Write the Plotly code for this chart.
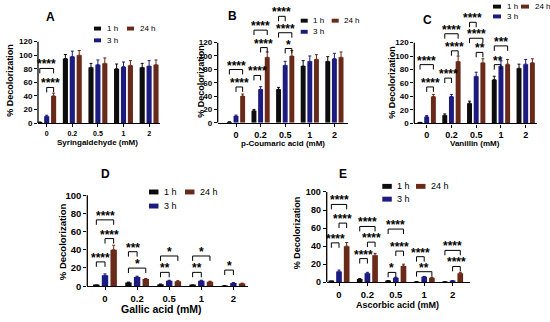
import plotly.graph_objects as go

# ---------------- data ----------------
cats = ["0", "0.2", "0.5", "1", "2"]
series = ["1 h", "3 h", "24 h"]

A_1h = [1, 95, 82, 80, 82]
A_3h = [10, 98, 86, 83, 84]
A_24h = [40, 100, 88, 85, 86]
A_err = [[0.5, 6, 6, 7, 6], [1.5, 8, 7, 7, 8], [4, 7, 8, 7, 7]]

B_1h = [1, 18, 50, 85, 92]
B_3h = [10, 50, 86, 92, 96]
B_24h = [40, 98, 100, 95, 98]
B_err = [[0.5, 2, 3, 8, 7], [1.5, 4, 6, 8, 8], [3, 8, 8, 7, 8]]

C_1h = [1, 12, 30, 65, 82]
C_3h = [10, 40, 70, 85, 88]
C_24h = [40, 92, 90, 88, 90]
C_err = [[0.5, 2, 3, 5, 6], [1.5, 3, 6, 8, 7], [3, 8, 6, 7, 6]]

D_1h = [1, 4, 2, 1, 0.4]
D_3h = [12, 10, 6, 6, 3.5]
D_24h = [40, 8, 5.5, 5, 3]
D_err = [[0.3, 0.5, 0.3, 0.3, 0.2], [1.5, 1, 0.5, 0.5, 0.4], [5, 0.5, 0.5, 0.5, 0.3]]

E_1h = [1, 3.5, 1.5, 0.5, 0.3]
E_3h = [12, 10, 5, 6, 1.5]
E_24h = [40, 30, 18, 5, 10]
E_err = [[0.3, 0.5, 0.3, 0.2, 0.2], [1.5, 1, 0.5, 0.5, 0.3], [4, 2, 2, 0.5, 1]]

# significance brackets: (category index, series a, series b, level, label)
A_sig = [(0, 0, 2, 80.5, "****"), (0, 1, 2, 52.5, "****")]
B_sig = [(0, 0, 2, 79.7, "****"), (0, 1, 2, 53.6, "****"),
         (1, 0, 2, 138.7, "****"), (1, 1, 2, 112.6, "****"), (1, 0, 1, 70.8, "****"),
         (2, 0, 1, 159.4, "****"), (2, 0, 2, 134.8, "****"), (2, 1, 2, 111.2, "*")]
C_sig = [(0, 0, 2, 87.3, "****"), (0, 1, 2, 54.1, "****"),
         (1, 0, 2, 133.2, "****"), (1, 1, 2, 107.8, "****"), (1, 0, 1, 67.3, "****"),
         (2, 0, 1, 150.2, "****"), (2, 0, 2, 126.5, "****"), (2, 1, 2, 105.5, "**"),
         (3, 0, 2, 115.1, "***"), (3, 0, 1, 87.3, "**")]
D_sig = [(0, 0, 2, 72.9, "****"), (0, 1, 2, 52.3, "****"), (0, 0, 1, 26.7, "****"),
         (1, 0, 1, 37.9, "***"), (1, 0, 2, 19.9, "*"),
         (2, 0, 2, 33.2, "*"), (2, 0, 1, 15.2, "**"),
         (3, 0, 2, 33.2, "*"), (3, 0, 1, 15.2, "**"),
         (4, 0, 1, 17.7, "*")]
E_sig = [(0, 0, 2, 86.2, "****"), (0, 1, 2, 65.5, "****"), (0, 0, 1, 43.6, "****"),
         (1, 0, 2, 61.8, "****"), (1, 1, 2, 44.4, "****"), (1, 0, 1, 26.2, "****"),
         (2, 0, 2, 58.9, "****"), (2, 1, 2, 34.5, "****"), (2, 0, 1, 10.9, "*"),
         (3, 0, 1, 28.3, "****"), (3, 0, 2, 11.7, "**"),
         (4, 0, 2, 35.3, "****"), (4, 1, 2, 17.5, "****")]

x_titles = ["Syringaldehyde (mM)", "p-Coumaric acid (mM)", "Vanillin (mM)",
            "Gallic acid (mM)", "Ascorbic acid (mM)"]
letters = ["A", "B", "C", "D", "E"]
y_title = "% Decolorization"

# ---------------- styles / geometry (pixels) ----------------
W, H = 550, 322
colors = ["#0d0d0d", "#1c1c80", "#6a2a1a"]
offsets = [-0.27, 0.0, 0.27]
BW = 0.2
FONT = "Liberation Sans, Arial, sans-serif"

panels = [
    dict(vals=[A_1h, A_3h, A_24h], err=A_err, sig=A_sig, ymax=120,
         xl=38, xr=160, cat0=46.7, step=25.6, y0=125, yr=42.3, top=0,
         xt=(97, 145, 8), yt=(10, 82, 9), let=(50, 17),
         xtick=7, ytick=8, leg=(94, 127, 29, 41, 7, 4, 8)),
    dict(vals=[B_1h, B_3h, B_24h], err=B_err, sig=B_sig, ymax=120,
         xl=217.7, xr=348, cat0=236, step=24.6, y0=124.7, yr=43.3, top=0,
         xt=(283, 146, 8), yt=(201, 83, 9), let=(232, 16),
         xtick=9, ytick=8, leg=(300.7, 331.7, 21, 32.3, 7, 4, 8)),
    dict(vals=[C_1h, C_3h, C_24h], err=C_err, sig=C_sig, ymax=120,
         xl=414.3, xr=537, cat0=426.7, step=24.75, y0=125.3, yr=43.3, top=0,
         xt=(475, 146, 8), yt=(392, 84, 9), let=(427, 20.7),
         xtick=9, ytick=8, leg=(493, 521, 6.7, 16.7, 8, 4, 8)),
    dict(vals=[D_1h, D_3h, D_24h], err=D_err, sig=D_sig, ymax=100,
         xl=87.3, xr=248, cat0=105, step=32.1, y0=290.7, yr=198.3, top=165,
         xt=(161, 314, 10.5), yt=(62, 246, 9.5), let=(105, 177),
         xtick=9.5, ytick=9.5, leg=(149, 185, 195, 209.3, 9.5, 5, 9)),
    dict(vals=[E_1h, E_3h, E_24h], err=E_err, sig=E_sig, ymax=100,
         xl=326.7, xr=470, cat0=339, step=28.4, y0=286.7, yr=195, top=165,
         xt=(397, 310, 9), yt=(297, 237, 9), let=(343, 177),
         xtick=9.5, ytick=9, leg=(382.3, 416, 189.3, 202.3, 9.5, 5, 9)),
]


def px(xp):
    return xp / W


def py(yp):
    return 1 - yp / H


fig = go.Figure()
shapes = []
annotations = []
layout_axes = {}

for i, p in enumerate(panels, start=1):
    xa = "x" if i == 1 else f"x{i}"
    ya = "y" if i == 1 else f"y{i}"
    ppu = (p["y0"] - p["yr"]) / p["ymax"]
    ytop = (p["y0"] - p["top"]) / ppu
    xr0 = (p["xl"] - p["cat0"]) / p["step"]
    xr1 = (p["xr"] - p["cat0"]) / p["step"]

    for s in range(3):
        fig.add_trace(go.Bar(
            x=list(range(len(cats))), y=p["vals"][s], width=BW, offset=offsets[s] - BW / 2,
            marker=dict(color=colors[s], line=dict(width=0)),
            error_y=dict(type="data", array=p["err"][s], arrayminus=[0] * len(cats),
                         symmetric=False, color=colors[s], thickness=1, width=1.5),
            xaxis=xa, yaxis=ya, showlegend=False, name=series[s]))

    tick_units = 5 / ppu
    for (c, a, b, lvl, lab) in p["sig"]:
        x1 = c + offsets[a]
        x2 = c + offsets[b]
        fig.add_trace(go.Scatter(
            x=[x1, x1, x2, x2], y=[lvl - tick_units, lvl, lvl, lvl - tick_units],
            mode="lines", line=dict(color="black", width=1), xaxis=xa, yaxis=ya,
            showlegend=False, hoverinfo="skip", cliponaxis=False))
        annotations.append(dict(
            x=(x1 + x2) / 2, y=lvl, xref=xa, yref=ya, text=lab, showarrow=False,
            xanchor="center", yanchor="bottom", yshift=-5,
            font=dict(family=FONT, size=12, color="black", weight="bold")))

    tf_x = dict(family=FONT, size=p["xtick"], color="black", weight="bold")
    tf_y = dict(family=FONT, size=p["ytick"], color="black", weight="bold")
    layout_axes["xaxis" if i == 1 else f"xaxis{i}"] = dict(
        domain=[px(p["xl"]), px(p["xr"])], range=[xr0, xr1], anchor=ya,
        tickvals=list(range(len(cats))), ticktext=cats, tickfont=tf_x,
        showline=True, linecolor="black", linewidth=1.3, ticks="outside",
        ticklen=3, tickwidth=1, tickcolor="black", showgrid=False, zeroline=False,
        fixedrange=True)
    layout_axes["yaxis" if i == 1 else f"yaxis{i}"] = dict(
        domain=[py(p["y0"]), py(p["top"])], range=[0, ytop], anchor=xa,
        tickvals=list(range(0, p["ymax"] + 1, 20)), tickfont=tf_y,
        showline=False, ticks="outside", ticklen=3, tickwidth=1, tickcolor="black",
        showgrid=False, zeroline=False, fixedrange=True)

    shapes.append(dict(type="line", xref=f"{xa} domain", yref=ya, x0=0, x1=0,
                       y0=0, y1=p["ymax"], line=dict(color="black", width=1.3)))

    # axis titles, panel letter
    xt = p["xt"]
    annotations.append(dict(x=px(xt[0]), y=py(xt[1]), xref="paper", yref="paper",
                            xanchor="center", yanchor="middle",
                            text=x_titles[i - 1], showarrow=False,
                            font=dict(family=FONT, size=xt[2], color="black", weight="bold")))
    yt = p["yt"]
    annotations.append(dict(x=px(yt[0]), y=py(yt[1]), xref="paper", yref="paper",
                            xanchor="center", yanchor="middle",
                            text=y_title, showarrow=False, textangle=-90,
                            font=dict(family=FONT, size=yt[2], color="black", weight="bold")))
    lt = p["let"]
    annotations.append(dict(x=px(lt[0]), y=py(lt[1]), xref="paper", yref="paper",
                            xanchor="center", yanchor="middle",
                            text=letters[i - 1], showarrow=False,
                            font=dict(family=FONT, size=12, color="black", weight="bold")))

    # legend (manual)
    lx1, lx2, ly1, ly2, rw, rh, lfs = p["leg"]
    entries = [(lx1, ly1, 0), (lx1, ly2, 1), (lx2, ly1, 2)]
    for (ex, ey, s) in entries:
        shapes.append(dict(type="rect", xref="paper", yref="paper",
                           x0=px(ex), x1=px(ex + rw), y0=py(ey + rh / 2), y1=py(ey - rh / 2),
                           fillcolor=colors[s], line=dict(width=0)))
        annotations.append(dict(x=px(ex + rw + 3.5), y=py(ey), xref="paper", yref="paper",
                                text=series[s], showarrow=False, xanchor="left",
                                yanchor="middle",
                                font=dict(family=FONT, size=lfs, color="black")))

fig.update_layout(
    width=W, height=H, margin=dict(l=0, r=0, t=0, b=0),
    plot_bgcolor="white", paper_bgcolor="white", barmode="overlay",
    shapes=shapes, annotations=annotations, showlegend=False, **layout_axes)

fig.write_html("out.html", config={"displayModeBar": False},
               post_script="document.body.style.margin='0';document.body.style.overflow='hidden';")
